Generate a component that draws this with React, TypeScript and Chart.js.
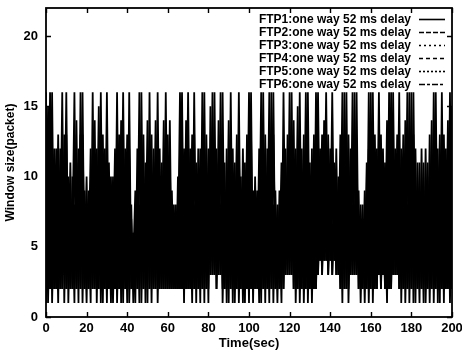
import React, { useEffect, useRef } from "react";
import { Chart, registerables } from "chart.js";

Chart.register(...registerables);

// Series labels (legend)
const seriesLabels = [
  "FTP1:one way 52 ms delay",
  "FTP2:one way 52 ms delay",
  "FTP3:one way 52 ms delay",
  "FTP4:one way 52 ms delay",
  "FTP5:one way 52 ms delay",
  "FTP6:one way 52 ms delay",
];

// Sampling interval of the window-size traces (seconds)
const TIME_STEP_SEC = 1;

// Window size (packets), one value per second, t = 0..200
const ftp1 = [
  16,1,8,2,9,4,13,2,9,3, 13,4,11,2,8,2,9,5,16,2, 8,2,9,4,14,1,9,3,10,3, 16,2,7,2,9,4,13,1,8,2,
  10,4,8,1,7,2,13,5,13,1, 9,2,10,4,14,1,8,2,11,4, 13,2,7,2,6,4,16,2,9,2, 12,4,13,2,8,2,9,5,16,2,
  9,3,12,4,12,3,8,2,8,4, 14,2,9,2,10,3,10,1,8,2, 13,4,9,2,7,2,12,4,13,2, 9,2,13,4,8,2,8,2,9,4,
  16,3,9,2,11,4,12,1,8,2, 8,4,13,2,9,4,10,5,16,3, 8,3,8,4,10,2,9,2,13,4, 12,3,8,3,7,4,8,1,8,2,
  12,4,13,2,9,2,9,4,14,2, 8,3,9,4,16,1,9,2,13,4, 16,1,8,2,8,4,11,1,8,2, 11,4,16,1,9,2,10,4,14,1,
  9,
];
const ftp2 = [
  1,15,2,9,4,9,1,12,2,8, 3,8,2,10,2,8,4,13,1,9, 2,7,4,12,2,12,2,9,5,9, 1,11,2,8,4,13,2,14,2,8,
  3,12,2,6,2,8,4,13,2,11, 2,9,4,9,2,16,2,8,4,12, 2,14,2,7,4,8,2,16,2,9, 4,9,1,16,2,8,4,13,1,13,
  2,9,4,12,2,14,3,9,4,9, 1,16,2,8,4,12,2,12,2,9, 4,13,1,10,2,8,4,12,1,12, 2,9,4,7,1,9,2,9,4,10,
  3,16,2,8,4,12,2,13,2,9, 4,9,2,16,3,8,4,11,4,13, 4,9,5,9,3,13,2,9,4,10, 3,16,3,9,4,7,2,9,2,8,
  4,13,2,12,3,8,4,8,1,16, 2,9,4,10,2,12,2,8,4,12, 2,16,2,8,4,9,1,12,2,9, 4,12,2,12,2,9,4,9,2,16,
  2,
];
const ftp3 = [
  12,4,16,1,8,2,10,4,16,1, 9,2,8,5,16,2,8,2,13,4, 10,2,9,2,11,4,15,1,8,2, 12,3,10,1,8,2,10,4,16,2,
  9,2,6,4,9,2,8,2,10,4, 14,2,9,2,11,4,12,2,8,2, 10,4,9,2,7,2,12,4,12,2, 9,2,10,4,11,2,8,2,12,4,
  12,3,9,3,9,4,16,1,8,2, 11,4,12,1,9,2,8,4,11,2, 8,2,7,4,9,1,9,2,10,4, 16,2,8,2,6,4,11,2,9,3,
  12,4,14,1,8,2,9,4,16,1, 8,2,10,4,16,4,9,4,12,4, 12,3,8,3,8,4,16,2,9,2, 9,4,16,3,7,2,6,4,11,1,
  9,2,10,4,16,2,8,2,11,4, 16,3,9,3,12,4,13,1,8,2, 13,4,12,2,8,2,8,4,11,1, 9,2,12,4,13,2,8,2,11,4,
  15,
];
const ftp4 = [
  4,12,2,16,2,8,3,9,2,13, 2,8,4,8,1,14,2,9,4,7, 1,9,2,8,4,9,2,16,2,8, 4,8,1,10,2,9,4,11,1,12,
  2,8,4,5,1,12,2,9,4,8, 1,16,2,8,4,13,2,11,2,9, 4,11,2,8,2,8,4,12,1,14, 2,8,4,13,1,12,2,9,4,10,
  1,15,3,8,4,11,3,16,2,8, 4,13,1,11,2,9,4,9,1,13, 2,8,4,8,2,12,2,9,4,9, 1,16,2,7,4,7,1,16,3,8,
  4,12,2,12,2,9,4,10,2,16, 2,8,4,12,3,12,3,8,5,10, 4,16,4,8,4,10,1,16,2,9, 4,12,3,16,2,7,4,7,2,16,
  2,9,4,9,3,13,3,8,4,12, 2,16,3,8,4,9,2,14,2,9, 4,13,1,11,2,8,4,9,2,13, 2,9,4,9,1,16,2,8,4,12,
  2,
];
const ftp5 = [
  9,2,13,4,12,2,8,2,12,4, 16,1,8,2,13,4,12,2,9,2, 8,4,12,2,8,2,12,4,13,2, 9,2,8,4,12,1,8,2,12,4,
  13,1,7,2,7,4,16,1,9,2, 11,4,13,2,8,2,9,4,14,2, 9,2,7,4,8,2,8,2,9,4, 16,2,9,2,8,4,12,2,9,2,
  9,4,16,3,8,3,13,4,11,1, 9,2,9,4,13,1,8,2,8,4, 16,2,8,2,7,4,16,2,8,2, 12,4,16,2,7,2,8,4,12,3,
  9,3,11,4,15,1,8,2,12,4, 11,1,9,2,12,5,13,4,9,3, 9,4,11,3,8,2,12,4,16,1, 8,3,13,4,9,1,7,2,8,4,
  16,1,9,2,12,4,12,2,8,2, 12,4,12,3,9,2,10,4,16,1, 9,2,9,4,11,2,8,2,8,4, 14,1,9,2,10,4,13,2,8,2,
  12,
];
const ftp6 = [
  2,8,4,12,2,12,2,8,4,10, 2,10,2,8,4,11,1,16,2,8, 4,7,1,16,2,8,4,12,1,12, 2,8,4,8,2,16,2,9,4,9,
  1,16,2,6,4,9,1,16,2,8, 4,12,1,12,2,9,4,8,2,16, 2,8,4,6,2,10,2,9,4,11, 2,12,2,8,4,9,1,16,2,9,
  4,12,3,16,2,8,4,12,2,12, 2,9,4,8,2,16,2,8,4,10, 1,16,2,8,4,9,1,16,2,8, 4,13,1,9,2,8,4,12,3,13,
  3,9,4,9,2,16,2,8,4,12, 2,12,2,9,4,9,3,14,4,8, 5,12,4,12,3,8,4,13,2,13, 3,8,4,12,2,8,2,7,4,12,
  2,16,2,8,4,10,3,11,2,9, 4,12,3,13,2,8,4,11,2,16, 2,9,4,8,1,12,2,8,4,10, 2,16,2,8,4,12,1,12,2,9,
  4,
];

const seriesValues = [ftp1, ftp2, ftp3, ftp4, ftp5, ftp6];

// Axis ranges / ticks
const X_MIN = 0, X_MAX = 200, X_STEP = 20;
const Y_MIN = 0, Y_MAX = 22, Y_STEP = 5;

// Legend line styles
const legendDashes: number[][] = [[], [5, 2], [2, 3], [4, 3], [2, 2], [6, 2, 3, 2]];

const FONT = '"Liberation Sans", Arial, Helvetica, sans-serif';

const framePlugin = {
  id: "frameTicksLegend",
  afterDraw(chart: any) {
    const { ctx, chartArea, scales } = chart;
    const { left, right, top, bottom } = chartArea;
    const x = scales.x, y = scales.y;
    ctx.save();
    ctx.strokeStyle = "#000";
    ctx.lineWidth = 1.8;
    ctx.strokeRect(left, top, right - left, bottom - top);
    ctx.lineWidth = 1.4;
    ctx.beginPath();
    x.ticks.forEach((t: any) => {
      const px = Math.round(x.getPixelForValue(t.value)) + 0.5;
      ctx.moveTo(px, bottom); ctx.lineTo(px, bottom - 5);
      ctx.moveTo(px, top); ctx.lineTo(px, top + 5);
    });
    y.ticks.forEach((t: any) => {
      const py = Math.round(y.getPixelForValue(t.value)) + 0.5;
      ctx.moveTo(left, py); ctx.lineTo(left + 5, py);
      ctx.moveTo(right, py); ctx.lineTo(right - 5, py);
    });
    ctx.stroke();

    // legend
    ctx.font = `bold 12px ${FONT}`;
    ctx.fillStyle = "#000";
    ctx.textAlign = "right";
    ctx.textBaseline = "middle";
    chart.data.datasets.forEach((ds: any, i: number) => {
      const ly = top + 11.5 + i * 13;
      ctx.fillText(ds.label, right - 41, ly);
      ctx.beginPath();
      ctx.lineWidth = 1.6;
      ctx.setLineDash(legendDashes[i]);
      ctx.moveTo(right - 33, ly);
      ctx.lineTo(right - 7, ly);
      ctx.stroke();
    });
    ctx.setLineDash([]);
    ctx.restore();
  },
};

export default function App() {
  const canvasRef = useRef<HTMLCanvasElement | null>(null);

  useEffect(() => {
    document.body.style.margin = "0";
    const canvas = canvasRef.current;
    if (!canvas) return;
    const times = ftp1.map((_, i) => i * TIME_STEP_SEC);
    const chart = new Chart(canvas, {
      type: "line",
      data: {
        labels: times,
        datasets: seriesValues.map((vals, i) => ({
          label: seriesLabels[i],
          data: vals,
          borderColor: "#000",
          borderWidth: 1.8,
          pointRadius: 0,
          tension: 0,
          fill: false,
        })),
      },
      options: {
        responsive: false,
        animation: false,
        events: [],
        layout: { padding: { top: 8, right: 10, left: 0, bottom: 0 } },
        plugins: {
          legend: { display: false },
          tooltip: { enabled: false },
        },
        scales: {
          x: {
            type: "linear",
            min: X_MIN,
            max: X_MAX,
            grid: { display: false, drawTicks: false },
            border: { display: false },
            ticks: {
              stepSize: X_STEP,
              color: "#000",
              padding: 4,
              maxRotation: 0,
              autoSkip: false,
              font: { family: FONT, weight: "bold", size: 13 },
            },
            title: {
              display: true,
              text: "Time(sec)",
              color: "#000",
              font: { family: FONT, weight: "bold", size: 13 },
              padding: { top: 0, bottom: 1 },
            },
            afterFit(scale: any) {
              scale.height = 35;
              scale.paddingLeft = 0;
              scale.paddingRight = 0;
            },
          },
          y: {
            min: Y_MIN,
            max: Y_MAX,
            grid: { display: false, drawTicks: false },
            border: { display: false },
            ticks: {
              stepSize: Y_STEP,
              includeBounds: false,
              color: "#000",
              padding: 8,
              font: { family: FONT, weight: "bold", size: 13 },
            },
            title: {
              display: true,
              text: "Window size(packet)",
              color: "#000",
              font: { family: FONT, weight: "bold", size: 12 },
              padding: { top: 3, bottom: 0 },
            },
            afterFit(scale: any) {
              scale.width = 46;
              scale.paddingTop = 0;
              scale.paddingBottom = 0;
            },
          },
        },
      },
      plugins: [framePlugin],
    } as any);
    return () => chart.destroy();
  }, []);

  return (
    <div style={{ width: 462, height: 352, background: "#fff" }}>
      <canvas ref={canvasRef} width={462} height={352} />
    </div>
  );
}
